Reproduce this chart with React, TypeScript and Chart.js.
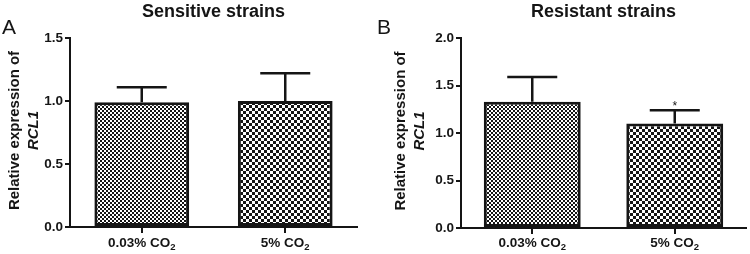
import React, { useEffect, useRef } from 'react';
import { Chart, registerables } from 'chart.js';

Chart.register(...registerables);

// ---- data ----
const categories = ['0.03% CO₂', '5% CO₂'];
const sensitiveMeans = [0.99, 1.0];
const sensitiveErrors = [0.12, 0.22];
const sensitiveMarks = ['', ''];
const resistantMeans = [1.33, 1.1];
const resistantErrors = [0.26, 0.14];
const resistantMarks = ['', '*'];
const sensitiveAxisMax = 1.5;
const resistantAxisMax = 2.0;
const axisStep = 0.5;
const yAxisLabel = 'Relative expression of';
const geneName = 'RCL1';

const FONT = "'Liberation Sans', Arial, Helvetica, sans-serif";
const INK = '#151515';

function makeChecker(cell: number): CanvasPattern {
  const c = document.createElement('canvas');
  c.width = cell * 2;
  c.height = cell * 2;
  const g = c.getContext('2d')!;
  g.fillStyle = '#ffffff';
  g.fillRect(0, 0, c.width, c.height);
  g.fillStyle = INK;
  g.fillRect(0, 0, cell, cell);
  g.fillRect(cell, cell, cell, cell);
  return g.createPattern(c, 'repeat')!;
}

const SUB: Record<string, string> = { '₂': '2' };

function drawChem(ctx: CanvasRenderingContext2D, text: string, cx: number, baseline: number) {
  const main = `bold 13.5px ${FONT}`;
  const sub = `bold 9.5px ${FONT}`;
  const parts: { t: string; s: boolean }[] = [];
  for (const ch of text) {
    const s = ch in SUB;
    const t = s ? SUB[ch] : ch;
    const last = parts[parts.length - 1];
    if (last && last.s === s) last.t += t;
    else parts.push({ t, s });
  }
  let total = 0;
  for (const p of parts) {
    ctx.font = p.s ? sub : main;
    total += ctx.measureText(p.t).width;
  }
  let x = cx - total / 2;
  ctx.textAlign = 'left';
  ctx.textBaseline = 'alphabetic';
  for (const p of parts) {
    ctx.font = p.s ? sub : main;
    ctx.fillText(p.t, x, p.s ? baseline + 3 : baseline);
    x += ctx.measureText(p.t).width;
  }
}

type PanelProps = {
  letter: string;
  title: string;
  means: number[];
  errors: number[];
  marks: string[];
  axisMax: number;
  left: number;
  yWidth: number;
  padRight: number;
  xHeight: number;
  label1X: number;
  label2X: number;
  barPct: number;
};

function Panel(p: PanelProps) {
  const ref = useRef<HTMLCanvasElement>(null);
  useEffect(() => {
    const canvas = ref.current!;
    const patterns = [makeChecker(2), makeChecker(3)];
    const extras = {
      id: 'extras',
      afterDatasetsDraw(chart: any) {
        const ctx: CanvasRenderingContext2D = chart.ctx;
        const meta = chart.getDatasetMeta(0);
        const ys = chart.scales.y;
        ctx.save();
        ctx.strokeStyle = INK;
        ctx.fillStyle = INK;
        ctx.lineWidth = 2.5;
        p.means.forEach((m, i) => {
          const x = meta.data[i].x;
          const y0 = ys.getPixelForValue(m);
          const y1 = ys.getPixelForValue(m + p.errors[i]);
          ctx.beginPath();
          ctx.moveTo(x, y0);
          ctx.lineTo(x, y1);
          ctx.moveTo(x - 25, y1);
          ctx.lineTo(x + 25, y1);
          ctx.stroke();
          if (p.marks[i]) {
            ctx.font = `12px ${FONT}`;
            ctx.textAlign = 'center';
            ctx.textBaseline = 'alphabetic';
            ctx.fillText(p.marks[i], x, y1);
          }
        });
        // category labels with subscripts
        categories.forEach((c, i) => {
          drawChem(ctx, c, meta.data[i].x, 247);
        });
        ctx.restore();
      },
      afterDraw(chart: any) {
        const ctx: CanvasRenderingContext2D = chart.ctx;
        const area = chart.chartArea;
        ctx.save();
        ctx.fillStyle = INK;
        // panel letter
        ctx.font = `21px ${FONT}`;
        ctx.textAlign = 'left';
        ctx.textBaseline = 'alphabetic';
        ctx.fillText(p.letter, 2, 34);
        // title
        ctx.font = `bold 18px ${FONT}`;
        ctx.textAlign = 'center';
        ctx.fillText(p.title, (area.left + area.right) / 2, 17);
        // y axis label
        const cy = (area.top + area.bottom) / 2 - 2;
        ctx.translate(0, cy);
        ctx.rotate(-Math.PI / 2);
        ctx.textBaseline = 'middle';
        ctx.textAlign = 'center';
        ctx.font = `bold 15px ${FONT}`;
        ctx.fillText(yAxisLabel, 0, p.label1X);
        ctx.font = `italic bold 15px ${FONT}`;
        ctx.fillText(geneName, 0, p.label2X);
        ctx.restore();
      },
    };

    const chart = new Chart(canvas, {
      type: 'bar',
      data: {
        labels: categories,
        datasets: [
          {
            data: p.means,
            backgroundColor: patterns as any,
            borderColor: INK,
            borderWidth: 3,
            borderSkipped: false,
            barPercentage: p.barPct,
            categoryPercentage: 1,
          },
        ],
      },
      options: {
        animation: false,
        responsive: false,
        maintainAspectRatio: false,
        devicePixelRatio: 1,
        layout: { padding: { left: 0, right: p.padRight, top: 38, bottom: 0 } },
        plugins: {
          legend: { display: false },
          tooltip: { enabled: false },
          title: { display: false },
        },
        scales: {
          x: {
            offset: true,
            grid: {
              display: true,
              offset: false,
              drawOnChartArea: false,
              drawTicks: true,
              tickLength: 6,
              color: INK,
              lineWidth: 2,
            },
            border: { display: true, color: INK, width: 2 },
            ticks: { display: false },
            afterFit: (s: any) => {
              s.height = p.xHeight;
            },
          },
          y: {
            min: 0,
            max: p.axisMax,
            ticks: {
              stepSize: axisStep,
              padding: 2,
              color: INK,
              font: { family: FONT, size: 13.5, weight: 'bold' },
              callback: (v: any) => Number(v).toFixed(1),
            },
            grid: {
              display: true,
              drawOnChartArea: false,
              drawTicks: true,
              tickLength: 5,
              color: INK,
              lineWidth: 2,
            },
            border: { display: true, color: INK, width: 2 },
            afterFit: (s: any) => {
              s.width = p.yWidth;
            },
          },
        },
      },
      plugins: [extras],
    } as any);
    return () => chart.destroy();
  }, []);
  return (
    <canvas
      ref={ref}
      width={375}
      height={254}
      style={{ position: 'absolute', left: p.left, top: 0, width: 375, height: 254 }}
    />
  );
}

export default function App() {
  return (
    <div
      style={{
        position: 'absolute',
        left: 0,
        top: 0,
        width: 750,
        height: 254,
        background: '#ffffff',
        overflow: 'hidden',
      }}
    >
      <Panel
        letter="A"
        title="Sensitive strains"
        means={sensitiveMeans}
        errors={sensitiveErrors}
        marks={sensitiveMarks}
        axisMax={sensitiveAxisMax}
        left={0}
        yWidth={70}
        padRight={18}
        xHeight={27}
        label1X={15}
        label2X={34}
        barPct={0.66}
      />
      <Panel
        letter="B"
        title="Resistant strains"
        means={resistantMeans}
        errors={resistantErrors}
        marks={resistantMarks}
        axisMax={resistantAxisMax}
        left={375}
        yWidth={86}
        padRight={4}
        xHeight={26}
        label1X={26}
        label2X={45}
        barPct={0.68}
      />
    </div>
  );
}
